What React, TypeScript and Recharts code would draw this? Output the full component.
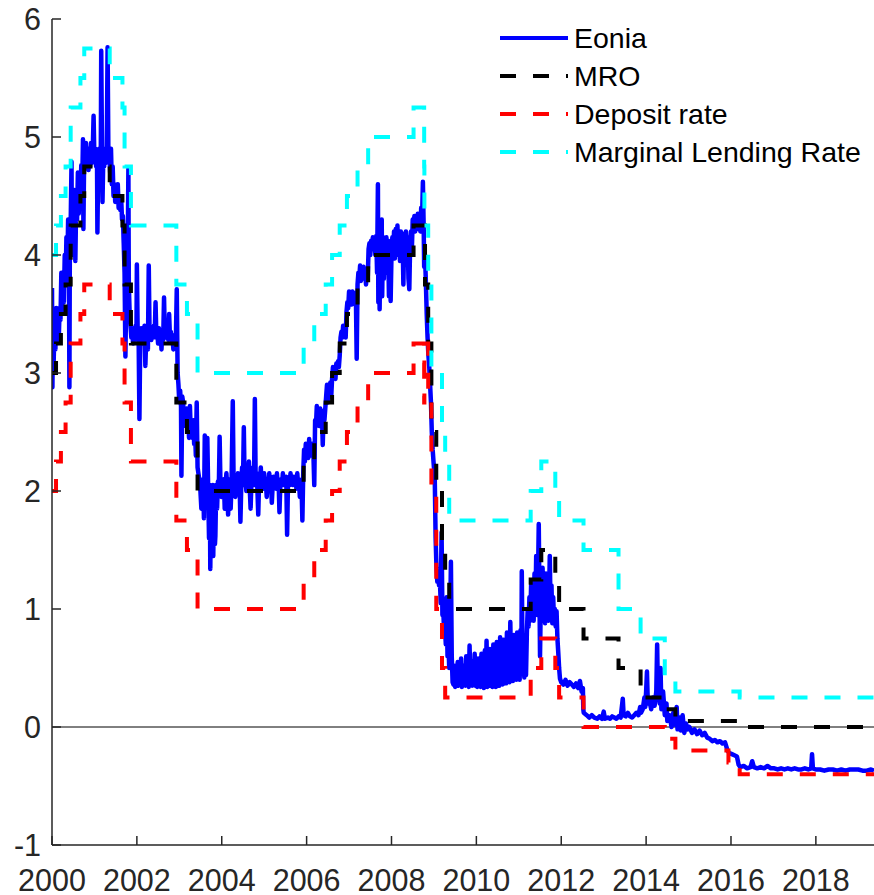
import React from "react"
import { LineChart, Line, XAxis, YAxis, ReferenceLine, Legend } from "recharts"

// tick values
const yearTicks = [2000, 2002, 2004, 2006, 2008, 2010, 2012, 2014, 2016, 2018]
const rateTicks = [-1, 0, 1, 2, 3, 4, 5, 6]

// legend order
const seriesNames = ["Eonia", "MRO", "Deposit rate", "Marginal Lending Rate"]

// ECB policy rates: [year, rate] at each change
const mro: [number, number][] = [
  [2000, 3.0], [2000.095, 3.25], [2000.21, 3.5], [2000.32, 3.75], [2000.44, 4.25],
  [2000.67, 4.5], [2000.76, 4.75], [2001.36, 4.5], [2001.66, 4.25], [2001.71, 3.75],
  [2001.86, 3.25], [2002.93, 2.75], [2003.18, 2.5], [2003.43, 2.0], [2005.93, 2.25],
  [2006.18, 2.5], [2006.45, 2.75], [2006.6, 3.0], [2006.78, 3.25], [2006.95, 3.5],
  [2007.2, 3.75], [2007.45, 4.0], [2008.52, 4.25], [2008.79, 3.75], [2008.865, 3.25],
  [2008.94, 2.5], [2009.055, 2.0], [2009.19, 1.5], [2009.265, 1.25], [2009.36, 1.0],
  [2011.28, 1.25], [2011.53, 1.5], [2011.86, 1.25], [2011.95, 1.0], [2012.525, 0.75],
  [2013.35, 0.5], [2013.87, 0.25], [2014.44, 0.15], [2014.69, 0.05], [2016.205, 0.0],
  [2019.4, 0.0],
]

const deposit: [number, number][] = [
  [2000, 2.0], [2000.095, 2.25], [2000.21, 2.5], [2000.32, 2.75], [2000.44, 3.25],
  [2000.67, 3.5], [2000.76, 3.75], [2001.36, 3.5], [2001.66, 3.25], [2001.71, 2.75],
  [2001.86, 2.25], [2002.93, 1.75], [2003.18, 1.5], [2003.43, 1.0], [2005.93, 1.25],
  [2006.18, 1.5], [2006.45, 1.75], [2006.6, 2.0], [2006.78, 2.25], [2006.95, 2.5],
  [2007.2, 2.75], [2007.45, 3.0], [2008.52, 3.25], [2008.77, 2.75], [2008.775, 3.25],
  [2008.865, 2.75], [2008.94, 2.0], [2009.055, 1.0], [2009.19, 0.5], [2009.265, 0.25],
  [2011.28, 0.5], [2011.53, 0.75], [2011.86, 0.5], [2011.95, 0.25], [2012.525, 0.0],
  [2014.44, -0.1], [2014.69, -0.2], [2015.94, -0.3], [2016.205, -0.4], [2019.4, -0.4],
]

const lending: [number, number][] = [
  [2000, 4.0], [2000.095, 4.25], [2000.21, 4.5], [2000.32, 4.75], [2000.44, 5.25],
  [2000.67, 5.5], [2000.76, 5.75], [2001.36, 5.5], [2001.66, 5.25], [2001.71, 4.75],
  [2001.86, 4.25], [2002.93, 3.75], [2003.18, 3.5], [2003.43, 3.0], [2005.93, 3.25],
  [2006.18, 3.5], [2006.45, 3.75], [2006.6, 4.0], [2006.78, 4.25], [2006.95, 4.5],
  [2007.2, 4.75], [2007.45, 5.0], [2008.52, 5.25], [2008.77, 4.75], [2008.775, 4.25],
  [2008.865, 3.75], [2008.94, 3.0], [2009.19, 2.5], [2009.265, 2.25], [2009.36, 1.75],
  [2011.28, 2.0], [2011.53, 2.25], [2011.86, 2.0], [2011.95, 1.75], [2012.525, 1.5],
  [2013.35, 1.0], [2013.87, 0.75], [2014.44, 0.4], [2014.69, 0.3], [2016.205, 0.25],
  [2019.4, 0.25],
]

// Eonia (spikes kept)
const eonia: [number, number][] = [
  [2000.0, 3.72], [2000.01, 2.88], [2000.02, 3.35], [2000.04, 3.1], [2000.06, 3.45], [2000.08, 3.2],
  [2000.1, 3.55], [2000.12, 3.25], [2000.14, 3.4], [2000.16, 3.3], [2000.18, 3.55], [2000.2, 3.45],
  [2000.22, 3.85], [2000.24, 3.5], [2000.26, 3.8], [2000.28, 3.6], [2000.3, 4.0], [2000.32, 3.75],
  [2000.34, 4.15], [2000.36, 3.85], [2000.38, 4.3], [2000.4, 3.9], [2000.41, 2.88], [2000.42, 4.0],
  [2000.44, 4.25], [2000.46, 4.79], [2000.47, 4.0], [2000.49, 4.35], [2000.51, 4.1], [2000.53, 4.55],
  [2000.55, 3.95], [2000.57, 4.45], [2000.59, 4.3], [2000.61, 4.7], [2000.63, 4.35], [2000.65, 4.6],
  [2000.67, 4.5], [2000.69, 4.76], [2000.71, 4.55], [2000.73, 4.98], [2000.74, 4.22], [2000.76, 4.9],
  [2000.78, 4.75], [2000.8, 4.95], [2000.82, 4.8], [2000.84, 4.9], [2000.86, 4.72], [2000.88, 4.85],
  [2000.9, 4.75], [2000.92, 4.95], [2000.94, 4.78], [2000.96, 4.88], [2000.98, 5.18], [2001.0, 4.8],
  [2001.02, 4.9], [2001.04, 4.75], [2001.06, 4.85], [2001.07, 4.19], [2001.09, 4.8], [2001.11, 4.9],
  [2001.13, 4.75], [2001.15, 4.85], [2001.16, 5.73], [2001.18, 4.8], [2001.19, 4.45], [2001.21, 4.85],
  [2001.23, 4.75], [2001.25, 4.9], [2001.27, 4.78], [2001.29, 4.88], [2001.31, 5.76], [2001.33, 4.8],
  [2001.35, 4.9], [2001.37, 4.7], [2001.39, 4.9], [2001.41, 4.6], [2001.43, 4.75], [2001.45, 4.5],
  [2001.47, 4.6], [2001.49, 4.45], [2001.51, 4.55], [2001.53, 4.45], [2001.55, 4.6], [2001.57, 4.4],
  [2001.59, 4.5], [2001.61, 4.38], [2001.63, 4.48], [2001.65, 4.3], [2001.67, 4.33], [2001.69, 4.1],
  [2001.71, 3.85], [2001.73, 3.14], [2001.75, 3.7], [2001.78, 3.8], [2001.8, 4.73], [2001.81, 3.75],
  [2001.83, 3.5], [2001.85, 3.4], [2001.87, 3.3], [2001.89, 3.38], [2001.91, 3.25], [2001.93, 3.35],
  [2001.95, 3.28], [2001.97, 3.4], [2001.99, 3.3], [2002.0, 3.92], [2002.02, 3.3], [2002.04, 3.35],
  [2002.06, 2.61], [2002.08, 3.3], [2002.1, 3.38], [2002.12, 3.25], [2002.14, 3.35], [2002.16, 3.3],
  [2002.18, 3.4], [2002.2, 3.06], [2002.22, 3.3], [2002.24, 3.35], [2002.26, 3.2], [2002.28, 3.91],
  [2002.3, 3.3], [2002.32, 3.38], [2002.34, 3.28], [2002.36, 3.35], [2002.38, 3.3], [2002.4, 3.4],
  [2002.42, 3.32], [2002.44, 3.6], [2002.46, 3.3], [2002.48, 3.35], [2002.5, 3.25], [2002.52, 3.38],
  [2002.54, 3.3], [2002.56, 3.35], [2002.58, 3.2], [2002.6, 3.35], [2002.62, 3.28], [2002.64, 3.64],
  [2002.66, 3.3], [2002.68, 3.35], [2002.7, 3.3], [2002.72, 3.4], [2002.74, 3.28], [2002.76, 3.5],
  [2002.78, 3.3], [2002.8, 3.35], [2002.82, 3.27], [2002.84, 3.3], [2002.86, 3.2], [2002.88, 3.32],
  [2002.9, 3.25], [2002.92, 3.3], [2002.94, 3.71], [2002.96, 3.0], [2002.98, 2.9], [2003.0, 2.75],
  [2003.02, 2.85], [2003.04, 2.72], [2003.05, 2.13], [2003.07, 2.8], [2003.09, 2.75], [2003.11, 2.6],
  [2003.13, 2.7], [2003.15, 2.55], [2003.17, 2.7], [2003.19, 2.5], [2003.21, 2.6], [2003.23, 2.45],
  [2003.25, 2.72], [2003.27, 2.5], [2003.29, 2.55], [2003.31, 2.45], [2003.33, 2.6], [2003.35, 2.4],
  [2003.37, 2.5], [2003.39, 2.3], [2003.41, 2.75], [2003.43, 2.2], [2003.45, 2.15], [2003.47, 2.1],
  [2003.49, 2.05], [2003.52, 1.85], [2003.54, 2.05], [2003.56, 2.1], [2003.58, 1.77], [2003.6, 2.47],
  [2003.62, 2.05], [2003.64, 1.9], [2003.66, 2.45], [2003.68, 2.02], [2003.7, 1.6], [2003.72, 2.05],
  [2003.73, 1.34], [2003.75, 2.0], [2003.77, 1.5], [2003.79, 2.05], [2003.8, 1.45], [2003.82, 2.02],
  [2003.84, 1.55], [2003.85, 1.62], [2003.87, 2.05], [2003.89, 1.85], [2003.91, 2.08], [2003.93, 2.0],
  [2003.95, 2.46], [2003.97, 2.05], [2003.99, 1.95], [2004.01, 2.08], [2004.03, 2.02], [2004.05, 2.1],
  [2004.07, 1.85], [2004.09, 2.05], [2004.11, 2.15], [2004.13, 2.02], [2004.15, 1.8], [2004.17, 2.05],
  [2004.19, 2.1], [2004.21, 1.85], [2004.23, 2.05], [2004.26, 2.76], [2004.28, 2.05], [2004.3, 2.08],
  [2004.32, 1.95], [2004.34, 2.1], [2004.36, 2.02], [2004.38, 2.15], [2004.4, 2.05], [2004.42, 2.08],
  [2004.44, 1.74], [2004.46, 2.05], [2004.48, 2.2], [2004.5, 2.05], [2004.52, 2.54], [2004.54, 2.05],
  [2004.56, 2.1], [2004.58, 2.0], [2004.6, 2.15], [2004.62, 2.05], [2004.64, 2.25], [2004.66, 2.02],
  [2004.68, 1.85], [2004.7, 2.08], [2004.72, 2.05], [2004.74, 2.2], [2004.76, 2.05], [2004.78, 2.78],
  [2004.8, 2.05], [2004.82, 2.15], [2004.84, 2.02], [2004.86, 1.8], [2004.88, 2.08], [2004.9, 2.05],
  [2004.92, 2.2], [2004.94, 2.05], [2004.96, 2.1], [2004.98, 2.02], [2005.0, 2.15], [2005.02, 2.05],
  [2005.04, 2.08], [2005.06, 1.95], [2005.08, 2.1], [2005.1, 2.05], [2005.12, 2.15], [2005.14, 2.05],
  [2005.16, 2.08], [2005.18, 1.9], [2005.2, 2.05], [2005.22, 2.12], [2005.24, 2.05], [2005.26, 2.1],
  [2005.28, 2.02], [2005.3, 2.15], [2005.32, 2.05], [2005.34, 2.08], [2005.36, 1.82], [2005.38, 2.05],
  [2005.4, 2.1], [2005.42, 2.05], [2005.44, 2.15], [2005.46, 2.05], [2005.48, 2.08], [2005.5, 2.05],
  [2005.52, 2.12], [2005.54, 1.63], [2005.56, 2.05], [2005.58, 2.1], [2005.6, 2.05], [2005.62, 2.15],
  [2005.64, 2.06], [2005.66, 2.1], [2005.68, 2.05], [2005.7, 2.12], [2005.72, 2.05], [2005.74, 2.08],
  [2005.76, 2.02], [2005.78, 2.15], [2005.8, 2.05], [2005.82, 2.1], [2005.84, 1.95], [2005.86, 2.08],
  [2005.88, 2.05], [2005.9, 1.75], [2005.92, 2.15], [2005.94, 2.35], [2005.96, 2.25], [2005.98, 2.4],
  [2006.0, 2.3], [2006.02, 2.35], [2006.04, 2.28], [2006.06, 2.44], [2006.08, 2.3], [2006.1, 2.35],
  [2006.12, 2.3], [2006.14, 2.4], [2006.16, 2.32], [2006.18, 2.05], [2006.2, 2.6], [2006.22, 2.55],
  [2006.24, 2.72], [2006.26, 2.6], [2006.28, 2.65], [2006.3, 2.55], [2006.32, 2.7], [2006.34, 2.6],
  [2006.36, 2.68], [2006.38, 2.39], [2006.4, 2.65], [2006.42, 2.6], [2006.44, 2.7], [2006.46, 2.8],
  [2006.48, 2.9], [2006.5, 2.75], [2006.52, 2.85], [2006.54, 2.8], [2006.56, 2.92], [2006.58, 2.8],
  [2006.6, 2.95], [2006.62, 3.05], [2006.64, 3.0], [2006.66, 3.05], [2006.68, 2.95], [2006.7, 3.08],
  [2006.72, 3.05], [2006.74, 3.1], [2006.76, 3.05], [2006.78, 3.15], [2006.8, 3.3], [2006.82, 3.35],
  [2006.84, 3.3], [2006.86, 3.4], [2006.88, 3.32], [2006.9, 3.38], [2006.92, 3.3], [2006.94, 3.52],
  [2006.96, 3.6], [2006.98, 3.55], [2007.0, 3.69], [2007.02, 3.6], [2007.04, 3.65], [2007.06, 3.58],
  [2007.08, 3.69], [2007.1, 3.6], [2007.12, 3.65], [2007.14, 3.6], [2007.16, 3.68], [2007.18, 3.12],
  [2007.2, 3.75], [2007.22, 3.85], [2007.24, 3.8], [2007.26, 3.91], [2007.28, 3.78], [2007.3, 3.88],
  [2007.32, 3.8], [2007.34, 3.9], [2007.36, 3.82], [2007.38, 3.85], [2007.4, 3.75], [2007.42, 3.88],
  [2007.44, 3.8], [2007.46, 4.05], [2007.48, 4.1], [2007.5, 4.0], [2007.52, 4.12], [2007.54, 4.05],
  [2007.56, 4.15], [2007.58, 4.05], [2007.6, 4.12], [2007.62, 4.0], [2007.64, 4.16], [2007.66, 3.85],
  [2007.68, 4.6], [2007.69, 3.6], [2007.71, 4.2], [2007.72, 3.54], [2007.74, 4.1], [2007.75, 3.75],
  [2007.77, 4.3], [2007.78, 3.65], [2007.8, 4.15], [2007.82, 3.8], [2007.84, 4.1], [2007.86, 3.9],
  [2007.88, 4.15], [2007.9, 3.85], [2007.92, 4.12], [2007.94, 3.65], [2007.96, 4.05], [2007.98, 3.61],
  [2008.0, 4.0], [2008.02, 4.15], [2008.04, 4.0], [2008.06, 4.2], [2008.08, 3.97], [2008.1, 4.22],
  [2008.12, 4.05], [2008.14, 4.25], [2008.16, 4.0], [2008.18, 4.15], [2008.2, 3.95], [2008.22, 4.2],
  [2008.24, 4.0], [2008.26, 4.18], [2008.28, 3.75], [2008.3, 4.15], [2008.32, 4.02], [2008.34, 4.2],
  [2008.36, 3.98], [2008.38, 4.15], [2008.4, 3.8], [2008.42, 3.71], [2008.44, 4.1], [2008.46, 4.2],
  [2008.48, 4.05], [2008.5, 4.3], [2008.52, 4.25], [2008.54, 4.33], [2008.56, 4.2], [2008.58, 4.3],
  [2008.6, 4.22], [2008.62, 4.35], [2008.64, 4.25], [2008.66, 4.3], [2008.68, 4.2], [2008.7, 4.4],
  [2008.72, 4.3], [2008.74, 4.62], [2008.76, 4.2], [2008.77, 3.9], [2008.79, 4.0], [2008.81, 3.77],
  [2008.83, 3.5], [2008.85, 3.3], [2008.87, 3.15], [2008.89, 3.05], [2008.91, 2.9], [2008.93, 2.75],
  [2008.95, 2.5], [2008.97, 2.35], [2009.0, 2.2], [2009.02, 2.1], [2009.04, 1.6], [2009.06, 1.35],
  [2009.08, 1.23], [2009.1, 1.3], [2009.12, 1.2], [2009.14, 1.25], [2009.16, 1.05], [2009.18, 1.65],
  [2009.2, 0.95], [2009.22, 1.0], [2009.24, 0.8], [2009.26, 0.85], [2009.28, 0.7], [2009.3, 1.1],
  [2009.32, 0.6], [2009.34, 0.75], [2009.36, 0.5], [2009.38, 0.8], [2009.4, 1.4], [2009.42, 0.6],
  [2009.44, 0.38], [2009.46, 0.36], [2009.48, 0.52], [2009.5, 0.34], [2009.52, 0.45], [2009.54, 0.36],
  [2009.56, 0.55], [2009.58, 0.35], [2009.6, 0.48], [2009.62, 0.37], [2009.64, 0.58], [2009.66, 0.34],
  [2009.68, 0.47], [2009.7, 0.36], [2009.72, 0.52], [2009.74, 0.35], [2009.76, 0.6], [2009.78, 0.36],
  [2009.8, 0.49], [2009.82, 0.34], [2009.84, 0.69], [2009.86, 0.36], [2009.88, 0.5], [2009.9, 0.35],
  [2009.92, 0.56], [2009.94, 0.37], [2009.96, 0.62], [2009.98, 0.35], [2010.0, 0.5], [2010.02, 0.34],
  [2010.04, 0.58], [2010.06, 0.36], [2010.08, 0.48], [2010.1, 0.34], [2010.12, 0.62], [2010.14, 0.35],
  [2010.16, 0.53], [2010.18, 0.33], [2010.2, 0.65], [2010.22, 0.36], [2010.24, 0.73], [2010.26, 0.34],
  [2010.28, 0.55], [2010.3, 0.36], [2010.32, 0.66], [2010.34, 0.35], [2010.36, 0.6], [2010.38, 0.34],
  [2010.4, 0.7], [2010.42, 0.36], [2010.44, 0.58], [2010.46, 0.34], [2010.48, 0.72], [2010.5, 0.37],
  [2010.52, 0.63], [2010.54, 0.35], [2010.56, 0.76], [2010.58, 0.38], [2010.6, 0.6], [2010.62, 0.36],
  [2010.64, 0.74], [2010.66, 0.4], [2010.68, 0.66], [2010.7, 0.37], [2010.72, 0.8], [2010.74, 0.42],
  [2010.76, 0.7], [2010.78, 0.38], [2010.8, 0.89], [2010.82, 0.43], [2010.84, 0.72], [2010.86, 0.39],
  [2010.88, 0.78], [2010.9, 0.45], [2010.92, 0.68], [2010.94, 0.4], [2010.96, 0.8], [2010.98, 0.46],
  [2011.0, 0.74], [2011.02, 0.4], [2011.04, 0.82], [2011.06, 0.45], [2011.07, 1.32], [2011.09, 0.5],
  [2011.11, 0.78], [2011.13, 0.42], [2011.15, 0.75], [2011.17, 0.44], [2011.19, 0.8], [2011.21, 1.0],
  [2011.23, 0.85], [2011.25, 1.1], [2011.27, 0.9], [2011.29, 1.2], [2011.31, 0.95], [2011.33, 1.24],
  [2011.35, 0.9], [2011.37, 1.3], [2011.39, 1.0], [2011.41, 1.45], [2011.43, 0.95], [2011.45, 1.2],
  [2011.47, 1.72], [2011.49, 1.0], [2011.5, 0.6], [2011.52, 1.1], [2011.54, 0.9], [2011.56, 1.35],
  [2011.58, 0.95], [2011.6, 1.2], [2011.62, 0.88], [2011.64, 1.3], [2011.66, 1.0], [2011.68, 1.15],
  [2011.7, 0.9], [2011.72, 1.25], [2011.73, 1.45], [2011.75, 0.95], [2011.77, 1.2], [2011.79, 0.88],
  [2011.81, 1.1], [2011.83, 0.9], [2011.85, 1.0], [2011.87, 0.85], [2011.89, 0.98], [2011.91, 0.75],
  [2011.93, 0.63], [2011.95, 0.5], [2011.97, 0.41], [2012.0, 0.38], [2012.05, 0.36], [2012.1, 0.4],
  [2012.15, 0.35], [2012.2, 0.38], [2012.25, 0.36], [2012.3, 0.34], [2012.35, 0.37], [2012.4, 0.33],
  [2012.44, 0.39], [2012.48, 0.3], [2012.51, 0.33], [2012.52, 0.15], [2012.53, 0.12], [2012.6, 0.1],
  [2012.66, 0.08], [2012.72, 0.1], [2012.78, 0.08], [2012.85, 0.07], [2012.9, 0.09], [2012.96, 0.07],
  [2013.0, 0.13], [2013.03, 0.07], [2013.1, 0.08], [2013.15, 0.07], [2013.2, 0.09], [2013.25, 0.08],
  [2013.3, 0.07], [2013.35, 0.09], [2013.4, 0.08], [2013.45, 0.24], [2013.47, 0.1], [2013.52, 0.09],
  [2013.57, 0.12], [2013.62, 0.09], [2013.67, 0.08], [2013.72, 0.1], [2013.77, 0.12], [2013.82, 0.1],
  [2013.86, 0.17], [2013.88, 0.12], [2013.92, 0.15], [2013.96, 0.25], [2013.98, 0.17], [2014.0, 0.3],
  [2014.02, 0.47], [2014.04, 0.2], [2014.08, 0.22], [2014.12, 0.15], [2014.16, 0.25], [2014.2, 0.18],
  [2014.24, 0.3], [2014.26, 0.7], [2014.28, 0.25], [2014.3, 0.4], [2014.32, 0.2], [2014.34, 0.5],
  [2014.36, 0.15], [2014.4, 0.3], [2014.44, 0.1], [2014.48, 0.2], [2014.5, 0.05], [2014.55, 0.1],
  [2014.6, 0.0], [2014.64, 0.12], [2014.68, 0.02], [2014.72, 0.17], [2014.74, -0.02], [2014.78, 0.08],
  [2014.82, -0.03], [2014.86, 0.1], [2014.9, -0.05], [2014.94, 0.03], [2014.98, -0.02], [2015.02, 0.0],
  [2015.08, -0.05], [2015.14, -0.02], [2015.2, -0.06], [2015.26, -0.03], [2015.32, -0.07], [2015.38, -0.05],
  [2015.44, -0.09], [2015.5, -0.1], [2015.56, -0.12], [2015.62, -0.11], [2015.68, -0.13], [2015.74, -0.12],
  [2015.8, -0.14], [2015.86, -0.13], [2015.92, -0.2], [2015.96, -0.22], [2016.02, -0.23], [2016.08, -0.24],
  [2016.14, -0.25], [2016.18, -0.32], [2016.22, -0.34], [2016.3, -0.33], [2016.38, -0.35], [2016.46, -0.34],
  [2016.5, -0.29], [2016.54, -0.34], [2016.62, -0.35], [2016.7, -0.34], [2016.78, -0.35], [2016.86, -0.33],
  [2016.94, -0.35], [2017.02, -0.35], [2017.1, -0.36], [2017.18, -0.35], [2017.26, -0.36], [2017.34, -0.35],
  [2017.42, -0.36], [2017.5, -0.35], [2017.58, -0.36], [2017.66, -0.36], [2017.74, -0.35], [2017.82, -0.36],
  [2017.89, -0.35], [2017.91, -0.23], [2017.93, -0.35], [2018.0, -0.36], [2018.1, -0.36], [2018.2, -0.37],
  [2018.3, -0.36], [2018.4, -0.36], [2018.5, -0.37], [2018.6, -0.36], [2018.7, -0.37], [2018.8, -0.36],
  [2018.9, -0.36], [2019.0, -0.36], [2019.1, -0.37], [2019.2, -0.37], [2019.3, -0.36], [2019.37, -0.37],
]

const toRows = (pts: [number, number][]) => pts.map(([year, rate]) => ({ year, rate }))

const axisColor = "#262626"
const font = "'Liberation Sans', Arial, sans-serif"
const tickFontSize = 30.5
const legendFontSize = 28.5
const dash = "16 17"

// inward ticks like the original figure
const YTick = (props: any) => {
  const { x, y, payload } = props
  const ax = x + 11
  return (
    <g>
      <line x1={ax} x2={ax + 9} y1={y} y2={y} stroke={axisColor} strokeWidth={1.5} />
      <text x={x} y={y + 11} textAnchor="end" fontFamily={font} fontSize={tickFontSize} fill={axisColor}>
        {payload.value}
      </text>
    </g>
  )
}

const XTick = (props: any) => {
  const { x, y, payload } = props
  return (
    <g>
      <line x1={x} x2={x} y1={y} y2={y - 9} stroke={axisColor} strokeWidth={1.5} />
      <text x={x} y={y + 45.5} textAnchor="middle" fontFamily={font} fontSize={tickFontSize} fill={axisColor}>
        {payload.value}
      </text>
    </g>
  )
}

const LegendBox = (props: any) => {
  const items = [...(props.payload || [])].sort(
    (a: any, b: any) => seriesNames.indexOf(a.value) - seriesNames.indexOf(b.value)
  )
  return (
    <svg width={380} height={160}>
      {items.map((entry: any, i: number) => {
        const y = 23 + i * 38
        return (
          <g key={entry.value}>
            <line
              x1={5} x2={73} y1={y} y2={y}
              stroke={entry.color}
              strokeWidth={4}
              strokeDasharray={entry.value === "Eonia" ? undefined : dash}
            />
            <text x={79} y={y + 10} fontFamily={font} fontSize={legendFontSize} fill="#000">
              {entry.value}
            </text>
          </g>
        )
      })}
    </svg>
  )
}

export default function App() {
  return (
    <div style={{ position: "absolute", left: 0, top: 0, width: 874, height: 895, background: "#fff" }}>
      <LineChart width={874} height={895} margin={{ top: 19, right: 0, bottom: 10, left: 0 }}>
        <XAxis
          type="number"
          dataKey="year"
          domain={[2000, 2019.37]}
          ticks={yearTicks}
          allowDataOverflow
          height={40}
          tickLine={false}
          tickSize={0}
          tickMargin={0}
          axisLine={{ stroke: axisColor, strokeWidth: 1.5 }}
          tick={<XTick />}
        />
        <YAxis
          type="number"
          domain={[-1, 6]}
          ticks={rateTicks}
          allowDataOverflow
          width={52}
          tickLine={false}
          tickSize={0}
          tickMargin={11}
          axisLine={{ stroke: axisColor, strokeWidth: 1.5 }}
          tick={<YTick />}
        />
        <ReferenceLine y={0} stroke="#000" strokeWidth={1} />
        <Legend
          layout="vertical"
          align="center"
          verticalAlign="middle"
          content={<LegendBox />}
          wrapperStyle={{ left: 495, top: 15, width: 380, height: 160 }}
        />
        <Line data={toRows(eonia)} dataKey="rate" name={seriesNames[0]} type="linear" stroke="#0000ff"
          strokeWidth={4.5} strokeLinejoin="round" dot={false} isAnimationActive={false} />
        <Line data={toRows(mro)} dataKey="rate" name={seriesNames[1]} type="stepAfter" stroke="#000000"
          strokeWidth={4} strokeDasharray={dash} dot={false} isAnimationActive={false} />
        <Line data={toRows(deposit)} dataKey="rate" name={seriesNames[2]} type="stepAfter" stroke="#ff0000"
          strokeWidth={4} strokeDasharray={dash} dot={false} isAnimationActive={false} />
        <Line data={toRows(lending)} dataKey="rate" name={seriesNames[3]} type="stepAfter" stroke="#00ffff"
          strokeWidth={4} strokeDasharray={dash} dot={false} isAnimationActive={false} />
      </LineChart>
    </div>
  )
}
